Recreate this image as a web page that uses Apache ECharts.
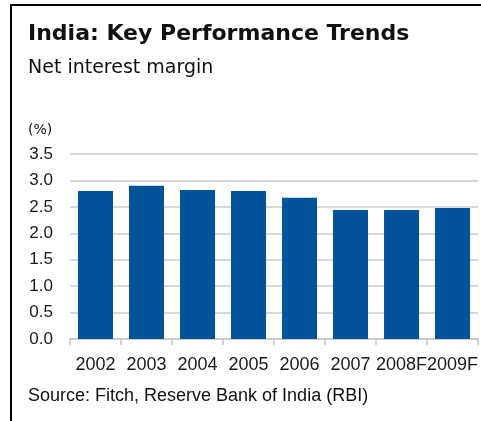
<!DOCTYPE html>
<html>
<head>
<meta charset="utf-8">
<script src="https://cdn.jsdelivr.net/npm/echarts@6/dist/echarts.min.js"></script>
<style>
html,body{margin:0;padding:0;background:#fff;}
#c{width:481px;height:421px;}
</style>
</head>
<body>
<div id="c"></div>
<script>
const titleText = 'India: Key Performance Trends';
const subtitleText = 'Net interest margin';
const unitText = '(%)';
const sourceText = 'Source: Fitch, Reserve Bank of India (RBI)';
const categories = ['2002', '2003', '2004', '2005', '2006', '2007', '2008F', '2009F'];
const nimValues = [2.80, 2.90, 2.82, 2.80, 2.67, 2.44, 2.44, 2.48];
const yMin = 0, yMax = 3.5, yStep = 0.5;

const chart = echarts.init(document.getElementById('c'), null, {renderer: 'canvas'});
chart.setOption({
  animation: false,
  backgroundColor: '#ffffff',
  grid: {left: 70, right: 2, top: 154, bottom: 82, containLabel: false},
  xAxis: {
    type: 'category',
    data: categories,
    axisLine: {show: true, lineStyle: {color: '#c8c8c8', width: 1.5}},
    axisTick: {show: true, length: 6, lineStyle: {color: '#c8c8c8', width: 1.5}},
    axisLabel: {color: '#1a1a1a', fontFamily: 'Liberation Sans, Arial, sans-serif', fontSize: 18, margin: 17, interval: 0}
  },
  yAxis: {
    type: 'value',
    min: yMin, max: yMax, interval: yStep,
    axisLine: {show: false},
    axisTick: {show: false},
    splitLine: {show: true, lineStyle: {color: '#d9d9d9', width: 2}},
    axisLabel: {color: '#1a1a1a', fontFamily: 'Liberation Sans, Arial, sans-serif', fontSize: 17, margin: 17,
      formatter: v => v.toFixed(1)}
  },
  series: [{
    type: 'bar',
    data: nimValues,
    barWidth: 35,
    itemStyle: {color: '#02539a'}
  }],
  graphic: [
    {type: 'line', shape: {x1: 11, y1: 5, x2: 481, y2: 5}, style: {stroke: '#000', lineWidth: 2}},
    {type: 'line', shape: {x1: 11, y1: 4, x2: 11, y2: 421}, style: {stroke: '#000', lineWidth: 2}},
    {type: 'text', left: 28, top: 23, style: {text: titleText, font: 'bold 22px "DejaVu Sans", sans-serif', fill: '#111'}},
    {type: 'text', left: 28, top: 59, style: {text: subtitleText, font: '19px "DejaVu Sans", sans-serif', fill: '#111'}},
    {type: 'text', left: 28, top: 123, style: {text: unitText, font: '14px "DejaVu Sans", sans-serif', fill: '#111'}},
    {type: 'text', left: 28, top: 387, style: {text: sourceText, font: '18px "Liberation Sans", Arial, sans-serif', fill: '#111'}}
  ]
});
</script>
</body>
</html>
